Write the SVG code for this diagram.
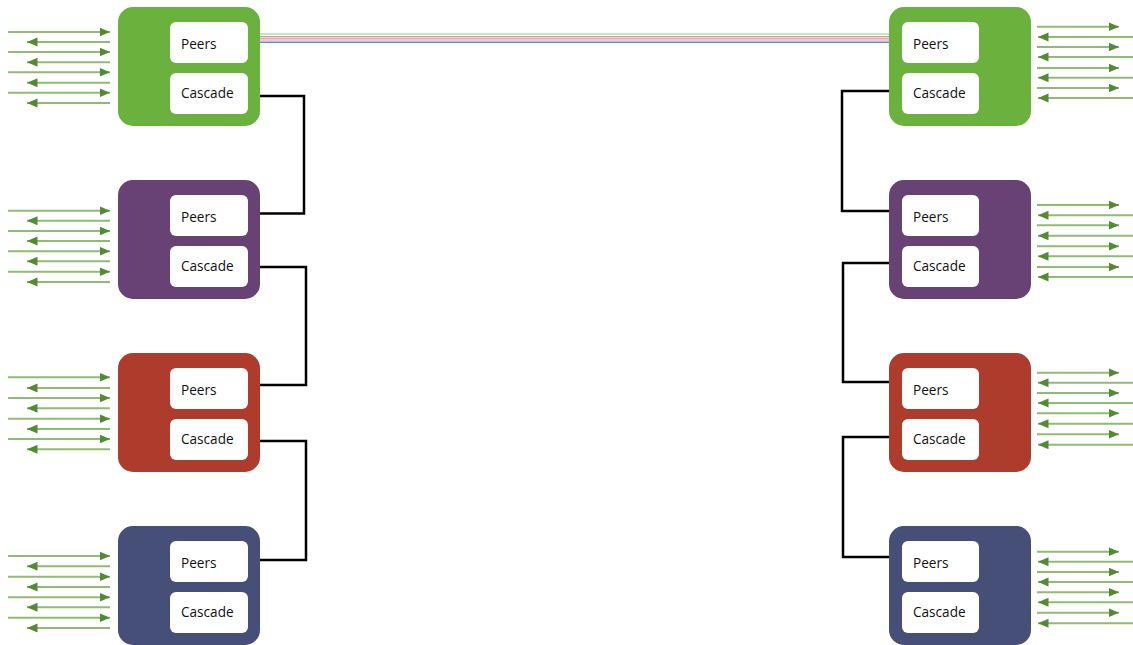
<svg xmlns="http://www.w3.org/2000/svg" width="1133" height="645" viewBox="0 0 1133 645">
<defs>
<marker id="ah" markerUnits="userSpaceOnUse" markerWidth="11" markerHeight="10" refX="10.5" refY="5" orient="auto">
<path d="M0,0.5 L10.5,5 L0,9.5 Z" fill="#548a34"/>
</marker>
</defs>
<style>
.n{stroke:none}
.green{fill:#6bb13d}
.purple{fill:#684275}
.red{fill:#ad3c2d}
.navy{fill:#454f78}
.box{fill:#ffffff}
.t{font-family:"Open Sans","Noto Sans","Liberation Sans",sans-serif;font-size:13.6px;fill:#111111}
.io{stroke:#8fbc72;stroke-width:1.9;fill:none;marker-end:url(#ah)}
.conn{stroke:#000000;stroke-width:2.5;fill:none}
</style>

<g id="connectors">
<g id="trunk">
<line x1="260" y1="34" x2="889" y2="34" stroke="#b9dca0" stroke-width="1.6"/>
<line x1="260" y1="36.5" x2="889" y2="36.5" stroke="#b8a0c4" stroke-width="1.2"/>
<line x1="260" y1="38.3" x2="889" y2="38.3" stroke="#f3a4a4" stroke-width="1.4"/>
<line x1="260" y1="40" x2="889" y2="40" stroke="#ff8a8a" stroke-width="1.2"/>
<line x1="260" y1="42.3" x2="889" y2="42.3" stroke="#4f93d2" stroke-width="1.5"/>
</g>
<path class="conn" d="M260 96 H304 V213.5 H260"/>
<path class="conn" d="M260 267 H306 V385 H260"/>
<path class="conn" d="M260 441 H306 V560 H260"/>
<path class="conn" d="M889 91 H842 V211 H889"/>
<path class="conn" d="M889 263 H843 V382 H889"/>
<path class="conn" d="M889 437 H843 V557 H889"/>

<g id="io-left">
<line class="io" x1="8" y1="32" x2="110" y2="32"/>
<line class="io" x1="110" y1="42" x2="27" y2="42"/>
<line class="io" x1="8" y1="52" x2="110" y2="52"/>
<line class="io" x1="110" y1="62.3" x2="27" y2="62.3"/>
<line class="io" x1="8" y1="72.3" x2="110" y2="72.3"/>
<line class="io" x1="110" y1="82.7" x2="27" y2="82.7"/>
<line class="io" x1="8" y1="92.7" x2="110" y2="92.7"/>
<line class="io" x1="110" y1="103" x2="27" y2="103"/>

<line class="io" x1="8" y1="210.7" x2="110" y2="210.7"/>
<line class="io" x1="110" y1="220.7" x2="27" y2="220.7"/>
<line class="io" x1="8" y1="231" x2="110" y2="231"/>
<line class="io" x1="110" y1="241" x2="27" y2="241"/>
<line class="io" x1="8" y1="251.3" x2="110" y2="251.3"/>
<line class="io" x1="110" y1="261.3" x2="27" y2="261.3"/>
<line class="io" x1="8" y1="271.7" x2="110" y2="271.7"/>
<line class="io" x1="110" y1="282" x2="27" y2="282"/>

<line class="io" x1="8" y1="377.3" x2="110" y2="377.3"/>
<line class="io" x1="110" y1="388" x2="27" y2="388"/>
<line class="io" x1="8" y1="398" x2="110" y2="398"/>
<line class="io" x1="110" y1="408.3" x2="27" y2="408.3"/>
<line class="io" x1="8" y1="418.7" x2="110" y2="418.7"/>
<line class="io" x1="110" y1="429" x2="27" y2="429"/>
<line class="io" x1="8" y1="439" x2="110" y2="439"/>
<line class="io" x1="110" y1="449.3" x2="27" y2="449.3"/>

<line class="io" x1="8" y1="556" x2="110" y2="556"/>
<line class="io" x1="110" y1="566.3" x2="27" y2="566.3"/>
<line class="io" x1="8" y1="576.7" x2="110" y2="576.7"/>
<line class="io" x1="110" y1="587" x2="27" y2="587"/>
<line class="io" x1="8" y1="597.3" x2="110" y2="597.3"/>
<line class="io" x1="110" y1="607.3" x2="27" y2="607.3"/>
<line class="io" x1="8" y1="617.7" x2="110" y2="617.7"/>
<line class="io" x1="110" y1="628" x2="27" y2="628"/>
</g>

<g id="io-right">
<line class="io" x1="1037" y1="26.7" x2="1119" y2="26.7"/>
<line class="io" x1="1133" y1="37" x2="1038" y2="37"/>
<line class="io" x1="1037" y1="47" x2="1119" y2="47"/>
<line class="io" x1="1133" y1="57" x2="1038" y2="57"/>
<line class="io" x1="1037" y1="68" x2="1119" y2="68"/>
<line class="io" x1="1133" y1="77.7" x2="1038" y2="77.7"/>
<line class="io" x1="1037" y1="88" x2="1119" y2="88"/>
<line class="io" x1="1133" y1="98" x2="1038" y2="98"/>

<line class="io" x1="1037" y1="205" x2="1119" y2="205"/>
<line class="io" x1="1133" y1="215.3" x2="1038" y2="215.3"/>
<line class="io" x1="1037" y1="225.3" x2="1119" y2="225.3"/>
<line class="io" x1="1133" y1="235.7" x2="1038" y2="235.7"/>
<line class="io" x1="1037" y1="246.3" x2="1119" y2="246.3"/>
<line class="io" x1="1133" y1="256.3" x2="1038" y2="256.3"/>
<line class="io" x1="1037" y1="267" x2="1119" y2="267"/>
<line class="io" x1="1133" y1="277" x2="1038" y2="277"/>

<line class="io" x1="1037" y1="372.7" x2="1119" y2="372.7"/>
<line class="io" x1="1133" y1="382.7" x2="1038" y2="382.7"/>
<line class="io" x1="1037" y1="393" x2="1119" y2="393"/>
<line class="io" x1="1133" y1="403" x2="1038" y2="403"/>
<line class="io" x1="1037" y1="413.3" x2="1119" y2="413.3"/>
<line class="io" x1="1133" y1="423.7" x2="1038" y2="423.7"/>
<line class="io" x1="1037" y1="434.3" x2="1119" y2="434.3"/>
<line class="io" x1="1133" y1="444.7" x2="1038" y2="444.7"/>

<line class="io" x1="1037" y1="551.7" x2="1119" y2="551.7"/>
<line class="io" x1="1133" y1="561.7" x2="1038" y2="561.7"/>
<line class="io" x1="1037" y1="572" x2="1119" y2="572"/>
<line class="io" x1="1133" y1="582" x2="1038" y2="582"/>
<line class="io" x1="1037" y1="592.3" x2="1119" y2="592.3"/>
<line class="io" x1="1133" y1="602.3" x2="1038" y2="602.3"/>
<line class="io" x1="1037" y1="612.7" x2="1119" y2="612.7"/>
<line class="io" x1="1133" y1="623.3" x2="1038" y2="623.3"/>
</g>
</g>

<g id="left-1">
<rect class="n green" x="118" y="7" width="142" height="119" rx="15"/>
<rect class="box" x="170" y="22" width="78" height="41" rx="6"/>
<rect class="box" x="170" y="73" width="78" height="41" rx="6"/>
<text class="t" x="181" y="49">Peers</text>
<text class="t" x="181" y="98">Cascade</text>
</g>
<g id="left-2">
<rect class="n purple" x="118" y="180" width="142" height="119" rx="15"/>
<rect class="box" x="170" y="195" width="78" height="41" rx="6"/>
<rect class="box" x="170" y="246" width="78" height="41" rx="6"/>
<text class="t" x="181" y="222">Peers</text>
<text class="t" x="181" y="271">Cascade</text>
</g>
<g id="left-3">
<rect class="n red" x="118" y="353" width="142" height="119" rx="15"/>
<rect class="box" x="170" y="368" width="78" height="41" rx="6"/>
<rect class="box" x="170" y="419" width="78" height="41" rx="6"/>
<text class="t" x="181" y="395">Peers</text>
<text class="t" x="181" y="444">Cascade</text>
</g>
<g id="left-4">
<rect class="n navy" x="118" y="526" width="142" height="119" rx="15"/>
<rect class="box" x="170" y="541" width="78" height="41" rx="6"/>
<rect class="box" x="170" y="592" width="78" height="41" rx="6"/>
<text class="t" x="181" y="568">Peers</text>
<text class="t" x="181" y="617">Cascade</text>
</g>

<g id="right-1">
<rect class="n green" x="889" y="7" width="142" height="119" rx="15"/>
<rect class="box" x="902" y="22" width="77" height="41" rx="6"/>
<rect class="box" x="902" y="73" width="77" height="41" rx="6"/>
<text class="t" x="913" y="49">Peers</text>
<text class="t" x="913" y="98">Cascade</text>
</g>
<g id="right-2">
<rect class="n purple" x="889" y="180" width="142" height="119" rx="15"/>
<rect class="box" x="902" y="195" width="77" height="41" rx="6"/>
<rect class="box" x="902" y="246" width="77" height="41" rx="6"/>
<text class="t" x="913" y="222">Peers</text>
<text class="t" x="913" y="271">Cascade</text>
</g>
<g id="right-3">
<rect class="n red" x="889" y="353" width="142" height="119" rx="15"/>
<rect class="box" x="902" y="368" width="77" height="41" rx="6"/>
<rect class="box" x="902" y="419" width="77" height="41" rx="6"/>
<text class="t" x="913" y="395">Peers</text>
<text class="t" x="913" y="444">Cascade</text>
</g>
<g id="right-4">
<rect class="n navy" x="889" y="526" width="142" height="119" rx="15"/>
<rect class="box" x="902" y="541" width="77" height="41" rx="6"/>
<rect class="box" x="902" y="592" width="77" height="41" rx="6"/>
<text class="t" x="913" y="568">Peers</text>
<text class="t" x="913" y="617">Cascade</text>
</g>
</svg>
